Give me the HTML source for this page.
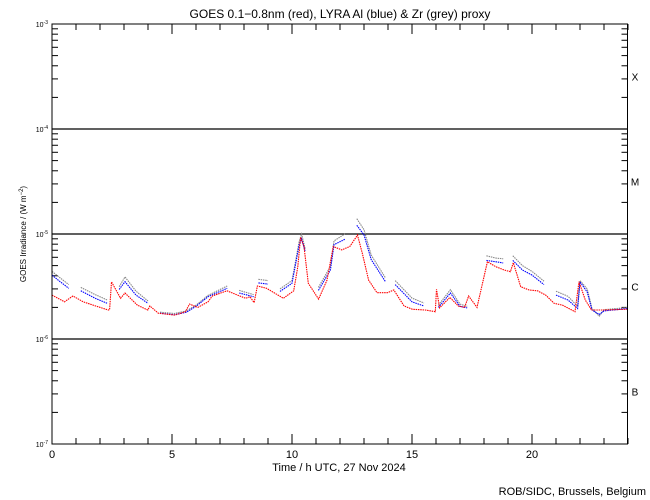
<!DOCTYPE html>
<html><head><meta charset="utf-8"><style>
body{margin:0;background:#fff;}
svg{display:block;font-family:"Liberation Sans",sans-serif;}
</style></head><body>
<svg id="chart" width="650" height="500" viewBox="0 0 650 500">
<rect x="0" y="0" width="650" height="500" fill="#fff"/>
<text x="340" y="18" font-size="12" text-anchor="middle">GOES 0.1−0.8nm (red), LYRA Al (blue) &amp; Zr (grey) proxy</text>
<text x="339" y="471" font-size="11" text-anchor="middle">Time / h UTC, 27 Nov 2024</text>
<text x="646" y="495" font-size="11" text-anchor="end">ROB/SIDC, Brussels, Belgium</text>
<text transform="translate(26,234) rotate(-90)" font-size="8" text-anchor="middle">GOES Irradiance / (W m<tspan dy="-3" font-size="6">−2</tspan><tspan dy="3">)</tspan></text>
<g id="axes"></g>
<g id="series"></g>
<rect x="52" y="24" width="575.5" height="420" fill="none" stroke="#000" stroke-width="1"/>
</svg>
<script>
const xTicks=[0,5,10,15,20];
const yDecades=[-3,-4,-5,-6,-7];
const classLabels=['X','M','C','B'];
const redHours=[0,0.52,0.87,1.3,1.82,2.34,2.4,2.48,2.86,3.04,3.56,3.99,4.08,4.43,5.12,5.56,5.73,6.08,6.5,6.68,7.29,7.73,8.07,8.25,8.42,8.56,8.94,9.64,10.07,10.24,10.36,10.5,10.68,11.11,11.46,11.72,12.07,12.41,12.73,12.93,13.19,13.54,13.98,14.24,14.67,15.02,15.54,15.97,16.02,16.15,16.58,16.93,17.19,17.36,17.71,18.14,18.49,18.84,19.1,19.22,19.53,19.88,20.23,20.57,20.92,21.27,21.79,21.96,22.22,22.48,23,23.87,24];
const redValues=[2.62e-6,2.26e-6,2.57e-6,2.26e-6,2.06e-6,1.89e-6,1.9e-6,3.5e-6,2.44e-6,2.74e-6,2.1e-6,1.89e-6,2.06e-6,1.76e-6,1.69e-6,1.82e-6,2.15e-6,2.0e-6,2.26e-6,2.57e-6,2.88e-6,2.62e-6,2.44e-6,2.53e-6,2.22e-6,3.2e-6,3.04e-6,2.44e-6,2.88e-6,4.88e-6,9.3e-6,7.6e-6,3.39e-6,2.4e-6,3.64e-6,7.6e-6,7.05e-6,7.6e-6,9.77e-6,6.55e-6,3.64e-6,2.76e-6,2.76e-6,2.93e-6,2.06e-6,1.92e-6,1.89e-6,1.82e-6,2.97e-6,1.98e-6,2.49e-6,2.06e-6,2.0e-6,2.57e-6,2.0e-6,5.44e-6,4.88e-6,4.54e-6,4.37e-6,5.33e-6,3.15e-6,2.93e-6,2.88e-6,2.62e-6,2.19e-6,2.1e-6,1.82e-6,3.51e-6,2.35e-6,1.89e-6,1.89e-6,1.92e-6,1.92e-6];
const blueHours=[0,0.35,0.7,null,1.2,1.8,2.3,null,2.8,3.04,3.5,4.0,null,4.5,5.1,5.6,6.0,6.5,7.3,null,7.8,8.4,null,8.6,9.0,null,9.5,10.0,10.3,10.4,10.55,null,11.1,11.6,11.75,12.2,null,12.7,13.0,13.3,13.9,null,14.3,15.0,15.5,null,16.1,16.6,17.0,17.3,null,18.1,18.5,18.8,null,19.2,19.6,20.0,20.5,null,21.0,21.5,21.9,22.0,22.3,22.5,22.8,23.0,24];
const blueValues=[4.06e-6,3.5e-6,3.04e-6,null,2.88e-6,2.44e-6,2.19e-6,null,2.97e-6,3.51e-6,2.62e-6,2.19e-6,null,1.76e-6,1.7e-6,1.8e-6,2.05e-6,2.53e-6,3.04e-6,null,2.74e-6,2.53e-6,null,3.42e-6,3.33e-6,null,2.84e-6,3.39e-6,7.9e-6,9.0e-6,6.8e-6,null,2.9e-6,4.54e-6,7.9e-6,8.9e-6,null,1.21e-5,9.8e-6,5.7e-6,3.5e-6,null,3.3e-6,2.26e-6,2.06e-6,null,2.0e-6,2.74e-6,2.05e-6,1.98e-6,null,5.6e-6,5.44e-6,5.3e-6,null,5.6e-6,4.54e-6,4.06e-6,3.3e-6,null,2.62e-6,2.35e-6,1.95e-6,3.5e-6,2.8e-6,1.89e-6,1.71e-6,1.85e-6,1.95e-6];
const greyHours=[0,0.35,0.7,null,1.2,1.8,2.3,null,2.8,3.04,3.5,4.0,null,4.5,5.1,5.6,6.0,6.5,7.3,null,7.8,8.4,null,8.6,9.0,null,9.5,10.0,10.3,10.4,10.55,null,11.1,11.6,11.75,12.2,null,12.7,13.0,13.3,13.9,null,14.3,15.0,15.5,null,16.1,16.6,17.0,17.3,null,18.1,18.5,18.8,null,19.2,19.6,20.0,20.5,null,21.0,21.5,21.9,22.0,22.3,22.5,22.8,23.0,24];
const greyValues=[4.4e-6,3.8e-6,3.3e-6,null,3.1e-6,2.65e-6,2.35e-6,null,3.15e-6,3.9e-6,2.85e-6,2.3e-6,null,1.8e-6,1.75e-6,1.85e-6,2.1e-6,2.6e-6,3.2e-6,null,2.9e-6,2.65e-6,null,3.7e-6,3.6e-6,null,3.0e-6,3.6e-6,8.5e-6,1.0e-5,7.2e-6,null,3.1e-6,4.9e-6,8.6e-6,1.0e-5,null,1.4e-5,1.1e-5,6.3e-6,3.8e-6,null,3.6e-6,2.45e-6,2.2e-6,null,2.1e-6,2.95e-6,2.15e-6,2.05e-6,null,6.2e-6,5.9e-6,5.8e-6,null,6.2e-6,5.0e-6,4.4e-6,3.55e-6,null,2.85e-6,2.55e-6,2.05e-6,3.6e-6,3.0e-6,1.95e-6,1.65e-6,1.9e-6,2.0e-6];

const X0=52,X1=628,Y0=24,DEC=105;
function xs(h){return X0+(X1-X0)*h/24;}
function ys(v){return Y0+(-3-Math.log10(v))*DEC;}
const NS='http://www.w3.org/2000/svg';
function mk(tag,attrs,parent){const e=document.createElementNS(NS,tag);for(const k in attrs)e.setAttribute(k,attrs[k]);parent.appendChild(e);return e;}
const axes=document.getElementById('axes');
for(let h=0;h<=24;h++){
  const len=(h%5===0)?10:6;const x=xs(h);
  const t1=mk('line',{x1:x,y1:444,x2:x,y2:444-len,stroke:'#000'},axes);
  
  
  const t2=mk('line',{x1:x,y1:24,x2:x,y2:24+len,stroke:'#000'},axes);
  
  
}
xTicks.forEach(h=>{
  const t=mk('text',{x:xs(h),y:458,'font-size':11,'text-anchor':'middle'},axes);
  t.textContent=String(h);
  
  
});
yDecades.forEach((d,i)=>{
  const y=ys(Math.pow(10,d));
  if(d<-3&&d>-7){
    const g=mk('line',{x1:52,y1:y,x2:627.5,y2:y,stroke:'#000','stroke-width':1.2},axes);
    
    
  }
  const lab=mk('text',{x:48,y:y+3,'font-size':7,'text-anchor':'end'},axes);
  lab.innerHTML='10<tspan dy="-3" font-size="5">'+d+'</tspan>';
  
  
  for(let m=1;m<=9;m++){
    if(d===-3&&m>1)break;
    const yy=ys(m*Math.pow(10,d));const len=m===1?10:6;
    const a=mk('line',{x1:52,y1:yy,x2:52+len,y2:yy,stroke:'#000'},axes);
    
    
    const b=mk('line',{x1:627.5,y1:yy,x2:627.5-len,y2:yy,stroke:'#000'},axes);
    
    
  }
});
classLabels.forEach((c,i)=>{
  const y=ys(Math.pow(10,-3-i-0.5));
  const t=mk('text',{x:635,y:y+4,'font-size':10,'text-anchor':'middle'},axes);
  t.textContent=c;
  
  
});
const series=document.getElementById('series');
function draw(hours,vals,color,name){
  let d='';let pen=false;
  for(let i=0;i<hours.length;i++){
    if(hours[i]===null||vals[i]===null){pen=false;continue;}
    d+=(pen?'L':'M')+xs(hours[i]).toFixed(1)+' '+ys(vals[i]).toFixed(1);pen=true;
  }
  const p=mk('path',{d:d,fill:'none',stroke:color,'stroke-width':1.1,'stroke-dasharray':'1.5 0.8'},series);
  
  
}
draw(greyHours,greyValues,'#888','lyra-zr-grey-series');
draw(blueHours,blueValues,'#0000ff','lyra-al-blue-series');
draw(redHours,redValues,'#ff0000','goes-red-series');
</script>
</body></html>
